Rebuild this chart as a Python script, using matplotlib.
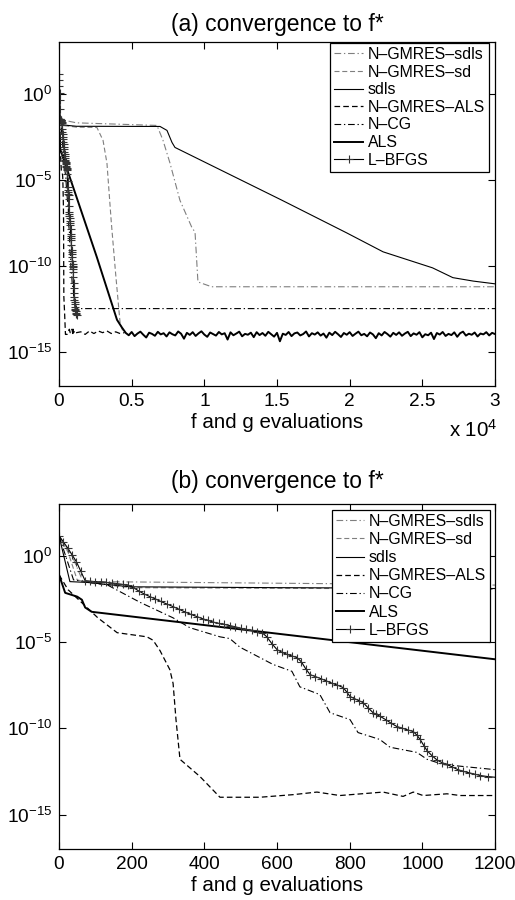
import numpy as np
import matplotlib
matplotlib.use('Agg')
import matplotlib.pyplot as plt
from matplotlib.ticker import FixedLocator, FuncFormatter, NullLocator

plt.rcParams['font.family'] = ['Liberation Sans', 'DejaVu Sans']
plt.rcParams['mathtext.fontset'] = 'custom'
plt.rcParams['mathtext.rm'] = 'Liberation Sans'
plt.rcParams['mathtext.default'] = 'regular'

# x = f and g evaluations, y = log10(f - f*)

ngsdls_x = [0, 40, 65, 100, 754, 1200, 6740, 7150, 7640, 8320, 9150, 9360, 9560, 10500, 30000]
ngsdls_y = [1.16, -0.2, -1.45, -1.5, -1.62, -1.7, -1.85, -2.7, -4.05, -6.2, -7.8, -8.05, -10.95, -11.23, -11.23]

ngsd_x = [0, 25, 50, 90, 200, 754, 1200, 2610, 3030, 3300, 3600, 3900, 4200, 4400, 4600]
ngsd_y = [1.16, 0.2, -1.4, -1.6, -1.85, -1.9, -1.95, -1.97, -2.72, -4.05, -7.5, -10.5, -13.3, -13.85, -13.9]

sdls_x = [0, 30, 80, 195, 600, 1200, 6950, 7430, 7775, 7980, 15340, 19800, 22300, 25700, 27100, 28500, 30000]
sdls_y = [1.16, -1.5, -1.55, -1.8, -1.85, -1.9, -1.91, -2.14, -2.84, -3.13, -6.2, -8.1, -9.2, -10.13, -10.7, -10.9, -11.06]

ngals_x = [0, 25, 107, 160, 242, 259, 278, 305, 314, 322, 333, 388, 443, 553, 644, 710, 773, 892, 947,
           975, 1002, 1068, 1104, 1200, 1500, 1800, 2100, 2400, 2700, 3000, 3300, 3600, 3900, 4200, 4500]
ngals_y = [-1.1, -1.97, -3.6, -4.46, -4.7, -4.9, -5.5, -6.6, -7.4, -9.5, -11.8, -12.8, -14.0, -14.0, -13.85,
           -13.7, -13.9, -13.7, -13.95, -13.7, -13.9, -13.8, -13.9, -13.9, -13.85, -14.0, -13.8, -13.95,
           -13.8, -13.9, -13.8, -13.95, -13.85, -13.95, -13.9]

ncg_x = [0, 40, 132, 223, 314, 360, 443, 470, 498, 589, 641, 663, 718, 746, 801, 823, 883, 911, 985,
         1013, 1057, 1200, 1300, 30000]
ncg_y = [1.16, -1.4, -1.68, -2.7, -3.6, -4.17, -4.7, -4.8, -5.3, -6.3, -6.7, -7.6, -8.05, -9.1, -9.5,
         -10.25, -10.65, -11.1, -11.4, -11.8, -12.1, -12.4, -12.5, -12.5]

als_x = [0, 17, 50, 63, 72, 90, 1200, 2600, 3990, 4330]
als_y = [-1.1, -2.15, -2.37, -2.55, -3.0, -3.25, -6.0, -9.5, -13.15, -13.6]
# noisy floor of ALS, every 200 evaluations from 4600 on
als_floor = [
    -13.92, -14.05, -13.86, -14.10, -13.95, -13.84, -14.02, -14.18, -13.90, -13.97, -14.08, -13.85, -14.00, -13.93, -14.12, -13.88,
    -13.99, -14.06, -13.83, -13.96, -14.25, -13.91, -14.03, -13.87, -14.09, -13.94, -13.82, -14.01, -14.14, -13.89, -13.98, -14.07,
    -13.86, -14.00, -13.93, -14.30, -13.88, -14.05, -13.95, -13.84, -14.11, -13.97, -14.02, -13.90, -14.16, -13.87, -14.04, -13.92,
    -14.08, -13.85, -13.99, -14.13, -13.91, -14.40, -13.96, -14.03, -13.86, -14.10, -13.94, -13.89, -14.06, -13.98, -13.83, -14.12,
    -13.93, -14.01, -13.88, -14.07, -13.95, -14.19, -13.90, -14.04, -13.85, -13.99, -14.15, -13.92, -14.02, -13.87, -14.09, -13.96,
    -13.84, -14.05, -13.97, -14.11, -13.89, -14.00, -14.22, -13.93, -14.06, -13.86, -13.98, -14.13, -13.91, -14.03, -13.88, -14.08,
    -13.95, -13.85, -14.10, -13.94, -14.02, -13.87, -14.17, -13.99, -14.05, -13.90, -14.27, -13.92, -14.01, -13.86, -14.09, -13.97,
    -14.04, -13.88, -14.14, -13.93, -13.84, -14.07, -13.96, -14.02, -13.89, -14.12, -13.95, -14.00, -13.87, -14.06, -13.91, -13.98]

lbfgs_x = [0, 12, 24, 36, 48, 60, 72, 85, 100, 115, 130, 145, 160, 175, 190, 205, 220, 235, 250, 265,
           280, 297, 314, 330, 346, 363, 380, 395, 410, 425, 440, 455, 470, 485, 500, 515, 530, 545, 559,
           572, 586, 600, 614, 628, 642, 655, 667, 679, 691, 705, 720, 735, 750, 766, 782, 792, 801, 813,
           825, 837, 850, 864, 873, 883, 899, 915, 930, 945, 960, 975, 985, 994, 1004, 1013, 1027, 1041,
           1055, 1068, 1083, 1098, 1113, 1128, 1144, 1159, 1180, 1220]
lbfgs_y = [1.16, 0.8, 0.45, 0.05, -0.35, -0.9, -1.45, -1.48, -1.5, -1.52, -1.55, -1.58, -1.62, -1.66,
           -1.7, -1.85, -2.05, -2.22, -2.37, -2.5, -2.65, -2.8, -2.95, -3.1, -3.25, -3.4, -3.53, -3.65,
           -3.75, -3.85, -3.92, -3.98, -4.05, -4.12, -4.2, -4.27, -4.33, -4.4, -4.46, -4.7, -5.1, -5.44,
           -5.6, -5.72, -5.82, -5.9, -6.15, -6.55, -6.89, -7.0, -7.12, -7.25, -7.38, -7.5, -7.64, -7.9,
           -8.16, -8.28, -8.4, -8.51, -8.8, -9.09, -9.2, -9.3, -9.5, -9.72, -9.9, -10.0, -10.1, -10.19,
           -10.4, -10.65, -11.0, -11.3, -11.6, -11.85, -12.0, -12.1, -12.25, -12.4, -12.5, -12.58, -12.66,
           -12.74, -12.8, -12.88]

labels = ['N\u2013GMRES\u2013sdls', 'N\u2013GMRES\u2013sd', 'sdls', 'N\u2013GMRES\u2013ALS',
          'N\u2013CG', 'ALS', 'L\u2013BFGS']

als_x_all = als_x + list(range(4600, 30001, 200))
als_y_all = als_y + als_floor


def draw(ax, xmax, xticks, xfmt, title, tpad):
    gray = '#7f7f7f'
    ax.semilogy(ngsdls_x, np.power(10.0, ngsdls_y), color=gray, lw=0.8,
                dashes=(6, 2.5, 1.2, 2.5), label=labels[0])
    ax.semilogy(ngsd_x, np.power(10.0, ngsd_y), color=gray, lw=0.8,
                dashes=(4.5, 2.5), label=labels[1])
    ax.semilogy(sdls_x, np.power(10.0, sdls_y), color='k', lw=0.8, label=labels[2])
    ax.semilogy(ngals_x, np.power(10.0, ngals_y), color='k', lw=0.9,
                dashes=(4.5, 2.5), label=labels[3])
    ax.semilogy(ncg_x, np.power(10.0, ncg_y), color='k', lw=0.8,
                dashes=(6, 2.5, 1.2, 2.5), label=labels[4])
    ax.semilogy(als_x_all, np.power(10.0, als_y_all), color='k', lw=1.4, label=labels[5])
    ax.semilogy(lbfgs_x, np.power(10.0, lbfgs_y), color='k', lw=0.8, marker='+',
                ms=6, mew=0.8, mec='#333333', label=labels[6])

    ax.set_xlim(0, xmax)
    ax.set_ylim(1e-17, 1e3)
    ax.xaxis.set_major_locator(FixedLocator(xticks))
    ax.xaxis.set_major_formatter(FuncFormatter(xfmt))
    ax.yaxis.set_major_locator(FixedLocator([1e-15, 1e-10, 1e-5, 1e0]))
    ax.yaxis.set_major_formatter(FuncFormatter(lambda v, p: r'$10^{%d}$' % round(np.log10(v))))
    ax.yaxis.set_minor_locator(NullLocator())
    ax.tick_params(direction='in', top=True, right=True, length=5, width=0.8,
                   labelsize=13.7, pad=5)
    for s in ax.spines.values():
        s.set_linewidth(0.9)
    ax.set_xlabel('f and g evaluations', fontsize=14.8, labelpad=2)
    ax.set_title(title, fontsize=16.5, pad=tpad)


fig = plt.figure(figsize=(5.15, 9), dpi=100)
ax1 = fig.add_axes([59 / 515, 1 - 386 / 900, 436 / 515, 344 / 900])
ax2 = fig.add_axes([59 / 515, 1 - 849 / 900, 436 / 515, 345 / 900])

draw(ax1, 30000, list(range(0, 30001, 5000)), lambda v, p: '%g' % (v / 1e4),
     '(a) convergence to f*', 8)
draw(ax2, 1200, list(range(0, 1201, 200)), lambda v, p: '%d' % v,
     '(b) convergence to f*', 11.5)

fig.text(498 / 515, 1 - 430 / 900, 'x 10$^4$', fontsize=14.8, ha='right', va='center')

for ax, anchor, sp in [(ax1, (0.986, 0.997), 0.165), (ax2, (0.989, 0.983), 0.2)]:
    leg = ax.legend(loc='upper right', bbox_to_anchor=anchor, borderaxespad=0,
                    fontsize=11.4, handlelength=1.8, handletextpad=0.3,
                    labelspacing=sp, borderpad=0.25, fancybox=False, framealpha=1)
    leg.get_frame().set_edgecolor('k')
    leg.get_frame().set_linewidth(0.9)

fig.savefig('out.png', dpi=100)
